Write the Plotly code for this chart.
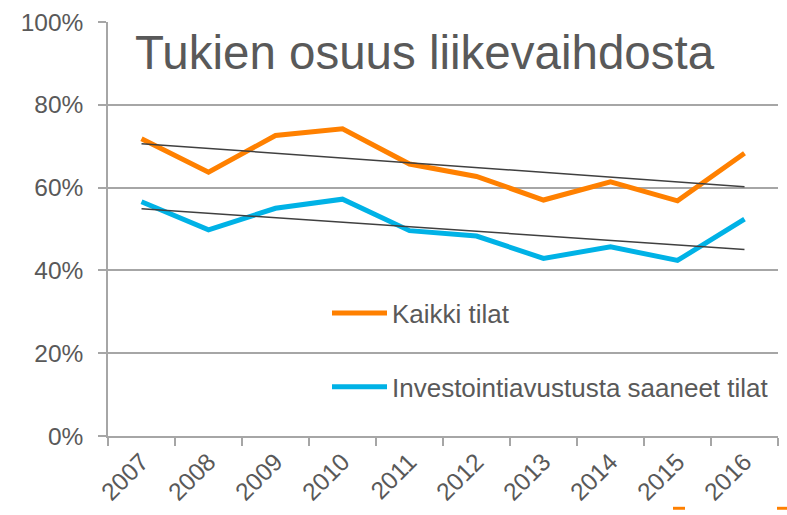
import numpy as np
import plotly.graph_objects as go

years = ["2007", "2008", "2009", "2010", "2011", "2012", "2013", "2014", "2015", "2016"]
kaikki = [71.8, 63.7, 72.6, 74.2, 65.7, 62.7, 57.0, 61.4, 56.8, 68.3]
investointi = [56.6, 49.8, 55.0, 57.2, 49.6, 48.3, 42.9, 45.7, 42.4, 52.4]
series_names = ["Kaikki tilat", "Investointiavustusta saaneet tilat"]
title_text = "Tukien osuus liikevaihdosta"

ORANGE = "#FF8000"
BLUE = "#00B2E6"
GRID = "#A6A6A6"
TEXT = "#595959"
FONT = "Liberation Sans, Arial, sans-serif"

idx = np.arange(len(years))

def trend(vals):
    k, b = np.polyfit(idx, vals, 1)
    return list(k * idx + b)

fig = go.Figure()
fig.add_trace(go.Scatter(x=years, y=kaikki, mode="lines", name=series_names[0],
                         line=dict(color=ORANGE, width=5), legend="legend"))
fig.add_trace(go.Scatter(x=years, y=investointi, mode="lines", name=series_names[1],
                         line=dict(color=BLUE, width=5), legend="legend2"))
fig.add_trace(go.Scatter(x=years, y=trend(kaikki), mode="lines", showlegend=False,
                         line=dict(color="#404040", width=1.5), hoverinfo="skip"))
fig.add_trace(go.Scatter(x=years, y=trend(investointi), mode="lines", showlegend=False,
                         line=dict(color="#404040", width=1.5), hoverinfo="skip"))

legend_common = dict(font=dict(family=FONT, size=26, color=TEXT), bgcolor="rgba(0,0,0,0)",
                     itemwidth=55, xanchor="left", yanchor="middle", borderwidth=0)

fig.update_layout(
    width=787, height=515,
    margin=dict(l=108, r=9, t=19, b=75),
    paper_bgcolor="white", plot_bgcolor="white",
    font=dict(family=FONT, size=24.5, color=TEXT),
    legend=dict(x=(327 - 108) / 670, y=(440 - 315) / 421, **legend_common),
    legend2=dict(x=(327 - 108) / 670, y=(440 - 390) / 421, **legend_common),
    xaxis=dict(type="category", tickson="boundaries", ticks="outside", ticklen=8,
               tickcolor=GRID, tickwidth=1.5, showline=True, linecolor=GRID, linewidth=1.5,
               showgrid=False, tickangle=-45, tickfont=dict(size=24.5, color=TEXT),
               range=[-0.5, len(years) - 0.5], zeroline=False),
    yaxis=dict(range=[0, 100], dtick=20, ticksuffix="%", ticks="outside", ticklen=8,
               tickcolor=GRID, tickwidth=1.5, showline=True, linecolor=GRID, linewidth=1.5,
               showgrid=True, gridcolor=GRID, gridwidth=1.5, zeroline=False,
               tickfont=dict(size=24.5, color=TEXT), ticklabelstandoff=10),
    annotations=[dict(text=title_text, xref="paper", yref="paper", x=(133 - 108) / 670,
                      y=(440 - 50.5) / 421, xanchor="left", yanchor="middle", showarrow=False,
                      font=dict(family=FONT, size=47.5, color=TEXT))],
    shapes=[
        dict(type="rect", xref="paper", yref="paper", x0=(673 - 108) / 670, x1=(685 - 108) / 670,
             y0=(440 - 515) / 421, y1=(440 - 512) / 421, fillcolor=ORANGE, line_width=0),
        dict(type="rect", xref="paper", yref="paper", x0=(777 - 108) / 670, x1=(790 - 108) / 670,
             y0=(440 - 515) / 421, y1=(440 - 512) / 421, fillcolor=ORANGE, line_width=0),
    ],
)

fig.write_html("out.html")
